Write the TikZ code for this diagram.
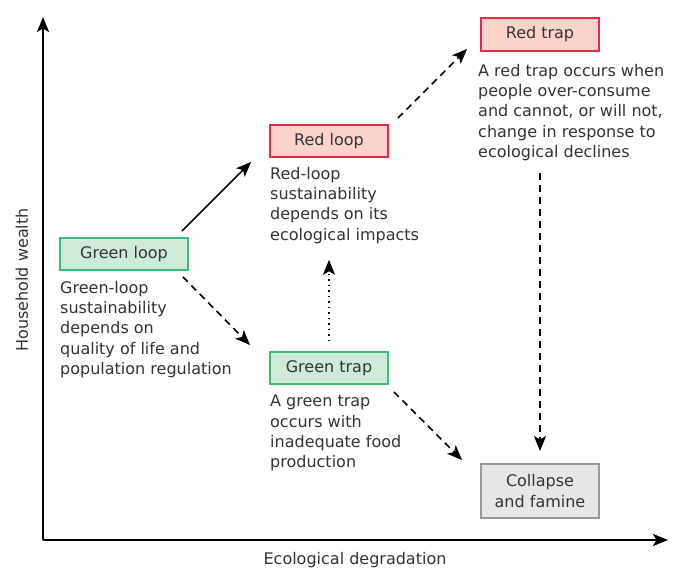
\documentclass[tikz,border=0pt]{standalone}
\usepackage{fontspec}
\setmainfont{DejaVu Sans}
\usetikzlibrary{arrows.meta}
\definecolor{txtgray}{HTML}{333333}
\definecolor{greenfill}{HTML}{CDEBD8}
\definecolor{greenline}{HTML}{3DBA78}
\definecolor{redfill}{HTML}{FBD3CB}
\definecolor{redline}{HTML}{E8294A}
\definecolor{grayfill}{HTML}{E6E7E8}
\definecolor{grayline}{HTML}{999999}

\begin{document}
\begin{tikzpicture}[x=1pt,y=-1pt,
    every node/.style={text=txtgray,font=\fontsize{16}{20.3}\selectfont},
    box/.style={draw,line width=1.8pt,inner sep=0pt,minimum width=118pt,minimum height=32pt},
    greenbox/.style={box,fill=greenfill,draw=greenline},
    redbox/.style={box,fill=redfill,draw=redline},
    graybox/.style={box,fill=grayfill,draw=grayline,minimum height=54pt,align=center},
    desc/.style={anchor=north west,align=left,inner sep=0pt},
    axis/.style={line width=2pt,-{Stealth[length=15pt,width=12pt,inset=3.5pt]}},
    link/.style={line width=1.6pt,-{Stealth[length=15pt,width=12pt,inset=3.5pt]}},
    linkdash/.style={link,dash pattern=on 7pt off 5pt},
    linkdot/.style={link,dash pattern=on 1.6pt off 3.9pt}]
    \useasboundingbox (0,0) rectangle (680,570);
    \coordinate (origin) at (43,540);
    \coordinate (ytop) at (43,17);
    \coordinate (xend) at (668,540);
    \draw[axis] (origin) -- (ytop);
    \draw[axis] (origin) -- (xend);
    \node[rotate=90] (ylabel) at (22,280) {Household wealth};
    \node (xlabel) at (355,560) {Ecological degradation};

    \node[greenbox,minimum width=128pt] (gloop) at (124,254) {Green loop};
    \node[redbox] (rloop) at (329,141) {Red loop};
    \node[redbox,minimum height=33pt] (rtrap) at (540,34.5) {Red trap};
    \node[greenbox] (gtrap) at (329,368) {Green trap};
    \node[graybox] (famine) at (540,491) {Collapse\\and famine};

    \node[desc] (glooptxt) at (60,281) {Green-loop\\sustainability\\depends on\\quality of life and\\population regulation};
    \node[desc] (rlooptxt) at (270,167) {Red-loop\\sustainability\\depends on its\\ecological impacts};
    \node[desc] (rtraptxt) at (478,64) {A red trap occurs when\\people over-consume\\and cannot, or will not,\\change in response to\\ecological declines};
    \node[desc] (gtraptxt) at (270,395) {A green trap\\occurs with\\inadequate food\\production};

    \draw[link] ([shift={(-7,-6)}]gloop.north east) -- ([shift={(-18,4)}]rloop.south west);
    \draw[linkdash] ([shift={(-6,6)}]gloop.south east) -- ([shift={(-19,-6)}]gtrap.north west);
    \draw[linkdot] ([yshift=10pt]gtrap.north) -- ([yshift=-16pt]rlooptxt.south -| gtrap.north);
    \draw[linkdash] ([shift={(9,-6)}]rloop.north east) -- ([shift={(-13,-3)}]rtrap.south west);
    \draw[linkdash] ([shift={(5,7)}]gtrap.south east) -- ([shift={(-18,-3)}]famine.north west);
    \draw[linkdash] ([yshift=-12pt]rtraptxt.south -| famine.north) -- ([yshift=12pt]famine.north);
\end{tikzpicture}
\end{document}
